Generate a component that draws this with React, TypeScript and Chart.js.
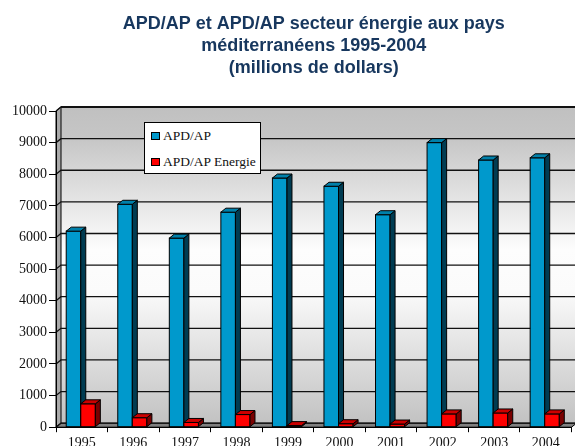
import React, { useEffect, useRef } from "react";
import { Chart, registerables } from "chart.js";

Chart.register(...registerables);

const years = ["1995", "1996", "1997", "1998", "1999", "2000", "2001", "2002", "2003", "2004"];
const apdTotal = [6200, 7050, 5980, 6800, 7880, 7620, 6720, 9000, 8450, 8520];
const apdEnergie = [740, 300, 150, 400, 50, 110, 100, 420, 450, 420];
const seriesLabels = ["APD/AP", "APD/AP Energie"];
const seriesColors = ["#0099cc", "#ff0000"];
const yMax = 10000;
const yStep = 1000;
const titleLines = [
  "APD/AP et APD/AP secteur énergie aux pays",
  "méditerranéens 1995-2004",
  "(millions de dollars)",
];

const DX = 5;
const DY = 4;
const SHIFT = -1;

const faceColors = [
  { top: "#0080aa", side: "#003c52" },
  { top: "#cc0000", side: "#7a0000" },
];

function poly(ctx: CanvasRenderingContext2D, pts: number[][]) {
  ctx.beginPath();
  ctx.moveTo(pts[0][0], pts[0][1]);
  for (let i = 1; i < pts.length; i++) ctx.lineTo(pts[i][0], pts[i][1]);
  ctx.closePath();
}

const backdrop = {
  id: "backdrop",
  beforeDraw(chart: any) {
    const { ctx, chartArea: a, scales } = chart;
    const y = scales.y;
    ctx.save();
    const g = ctx.createLinearGradient(0, a.top - DY, 0, a.bottom - DY);
    g.addColorStop(0, "#c0c0c0");
    g.addColorStop(0.1, "#c6c6c6");
    g.addColorStop(0.45, "#fdfdfd");
    g.addColorStop(0.58, "#fbfbfb");
    g.addColorStop(1, "#c2c2c2");
    ctx.fillStyle = g;
    ctx.fillRect(a.left + DX, a.top - DY, a.right - a.left, a.bottom - a.top);
    ctx.fillStyle = "#a9a9a9";
    poly(ctx, [[a.left, a.top], [a.left + DX, a.top - DY], [a.left + DX, a.bottom - DY], [a.left, a.bottom]]);
    ctx.fill();
    ctx.strokeStyle = "#000";
    ctx.lineWidth = 1;
    ctx.stroke();
    ctx.fillStyle = "#808080";
    poly(ctx, [[a.left, a.bottom], [a.left + DX, a.bottom - DY], [a.right + DX, a.bottom - DY], [a.right, a.bottom]]);
    ctx.fill();
    ctx.stroke();
    ctx.strokeStyle = "#111";
    ctx.lineWidth = 1.3;
    for (let v = 0; v <= yMax; v += yStep) {
      const yy = y.getPixelForValue(v);
      ctx.beginPath();
      ctx.moveTo(a.left, yy);
      ctx.lineTo(a.left + DX, yy - DY);
      ctx.lineTo(a.right + DX, yy - DY);
      ctx.stroke();
    }
    ctx.lineWidth = 2;
    ctx.beginPath();
    ctx.moveTo(a.left + DX, a.top - DY);
    ctx.lineTo(a.right + DX, a.top - DY);
    ctx.stroke();
    ctx.restore();
  },
  beforeDatasetsDraw(chart: any) {
    const { ctx } = chart;
    const metas = [chart.getDatasetMeta(0), chart.getDatasetMeta(1)];
    ctx.save();
    ctx.translate(SHIFT, 0);
    ctx.lineWidth = 1;
    ctx.strokeStyle = "#000";
    const n = metas[0].data.length;
    for (let i = 0; i < n; i++) {
      metas.forEach((meta: any, di: number) => {
        const el = meta.data[i];
        if (!el) return;
        const { x, y, base, width } = el.getProps(["x", "y", "base", "width"], true);
        const l = x - width / 2;
        const r = x + width / 2;
        ctx.fillStyle = seriesColors[di];
        ctx.fillRect(l, y, width, base - y);
        ctx.strokeRect(l, y, width, base - y);
        ctx.fillStyle = faceColors[di].side;
        poly(ctx, [[r, y], [r + DX, y - DY], [r + DX, base - DY], [r, base]]);
        ctx.fill();
        ctx.stroke();
        ctx.fillStyle = faceColors[di].top;
        poly(ctx, [[l, y], [l + DX, y - DY], [r + DX, y - DY], [r, y]]);
        ctx.fill();
        ctx.stroke();
      });
    }
    ctx.restore();
    return false;
  },
};

const serif = "'Liberation Serif', 'Times New Roman', serif";

export default function App() {
  const ref = useRef<HTMLCanvasElement | null>(null);

  useEffect(() => {
    if (!ref.current) return;
    const chart = new Chart(ref.current, {
      type: "bar",
      data: {
        labels: years,
        datasets: [
          { label: seriesLabels[0], data: apdTotal, backgroundColor: seriesColors[0], borderColor: "#000", borderWidth: 1 },
          { label: seriesLabels[1], data: apdEnergie, backgroundColor: seriesColors[1], borderColor: "#000", borderWidth: 1 },
        ],
      },
      options: {
        animation: false,
        responsive: false,
        maintainAspectRatio: false,
        datasets: { bar: { categoryPercentage: 0.565, barPercentage: 1 } },
        layout: { padding: { left: 10, right: 3.5, top: 0, bottom: 0 } },
        plugins: {
          legend: { display: false },
          tooltip: { enabled: false },
          title: {
            display: true,
            fullSize: false,
            text: titleLines,
            color: "#17375e",
            font: { family: "'Liberation Sans', Arial, sans-serif", size: 18, weight: "bold", lineHeight: 22 / 18 },
            padding: { top: 13, bottom: 32 },
          },
        },
        scales: {
          x: {
            offset: true,
            grid: { display: true, drawOnChartArea: false, drawTicks: true, tickLength: 5, color: "#000", offset: true },
            border: { display: true, color: "#000", width: 1 },
            ticks: { color: "#111", font: { family: serif, size: 14 }, padding: 3, maxRotation: 0 },
          },
          y: {
            min: 0,
            max: yMax,
            ticks: {
              stepSize: yStep,
              color: "#111",
              font: { family: serif, size: 14 },
              padding: 2,
              callback: (v: any) => String(v),
            },
            grid: { display: true, drawOnChartArea: false, drawTicks: true, tickLength: 7, color: "#000" },
            border: { display: true, color: "#000", width: 1 },
          },
        },
      },
      plugins: [backdrop],
    });
    return () => chart.destroy();
  }, []);

  const item = (color: string, text: string, top: number) => (
    <div style={{ position: "absolute", left: 6, top, display: "flex", alignItems: "center", whiteSpace: "nowrap" }}>
      <span style={{ display: "inline-block", width: 7, height: 6, background: color, border: "1px solid #000", marginRight: 3 }} />
      <span style={{ fontFamily: serif, fontSize: 13.5, color: "#111", lineHeight: "14px" }}>{text}</span>
    </div>
  );

  return (
    <div style={{ position: "absolute", left: 0, top: 0, width: 575, height: 446, overflow: "hidden", background: "#fff" }}>
      <canvas ref={ref} width={575} height={455} style={{ display: "block", width: 575, height: 455 }} />
      <div
        style={{
          position: "absolute",
          left: 144,
          top: 122,
          width: 115,
          height: 50,
          background: "#fff",
          border: "1px solid #000",
        }}
      >
        {item(seriesColors[0], seriesLabels[0], 6)}
        {item(seriesColors[1], seriesLabels[1], 32)}
      </div>
    </div>
  );
}
